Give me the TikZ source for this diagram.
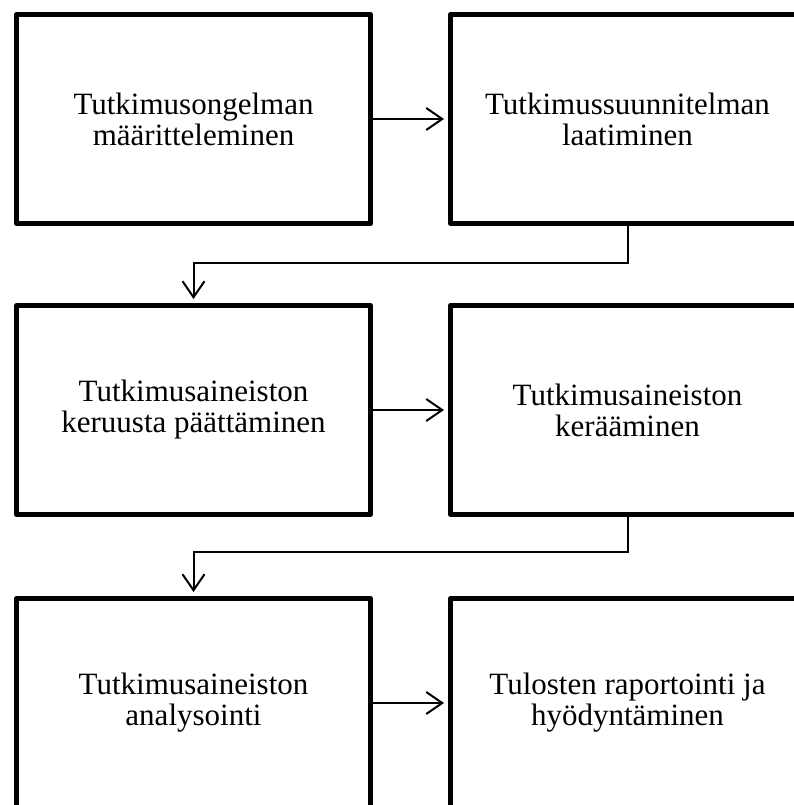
\documentclass[tikz,border=0pt]{standalone}
\usepackage{fontspec}
\setmainfont{Liberation Serif}
\usetikzlibrary{arrows.meta}
\begin{document}
\begin{tikzpicture}[x=1pt,y=-1pt,
  stagebox/.style={draw,line width=5pt,line join=round,minimum width=354pt,minimum height=209pt,
    align=center,font=\fontsize{31}{31}\selectfont,inner sep=0pt},
  flow/.style={line width=2pt,-{Straight Barb[length=16pt,width=22pt,line width=2pt]},shorten >=4pt}]
\useasboundingbox (0,0) rectangle (794,805);
\begin{scope}
\clip (0,0) rectangle (794,805);
\node[stagebox] (b1) at (193.5,119) {Tutkimusongelman\\määritteleminen};
\node[stagebox] (b2) at (627.5,119) {Tutkimussuunnitelman\\laatiminen};
\node[stagebox] (b3) at (193.5,410) {Tutkimusaineiston\\keruusta päättäminen};
\node[stagebox] (b4) at (627.5,410) {Tutkimusaineiston\\kerääminen};
\node[stagebox] (b5) at (193.5,703) {Tutkimusaineiston\\analysointi};
\node[stagebox] (b6) at (627.5,703) {Tulosten raportointi ja\\hyödyntäminen};
\draw[flow] (b1.east) -- (b2.west);
\draw[flow] (b3.east) -- (b4.west);
\draw[flow] (b5.east) -- (b6.west);
\draw[flow] (b2.south) -- ++(0,37) -| (b3.north);
\draw[flow] (b4.south) -- ++(0,35) -| (b5.north);
\end{scope}
\end{tikzpicture}
\end{document}
